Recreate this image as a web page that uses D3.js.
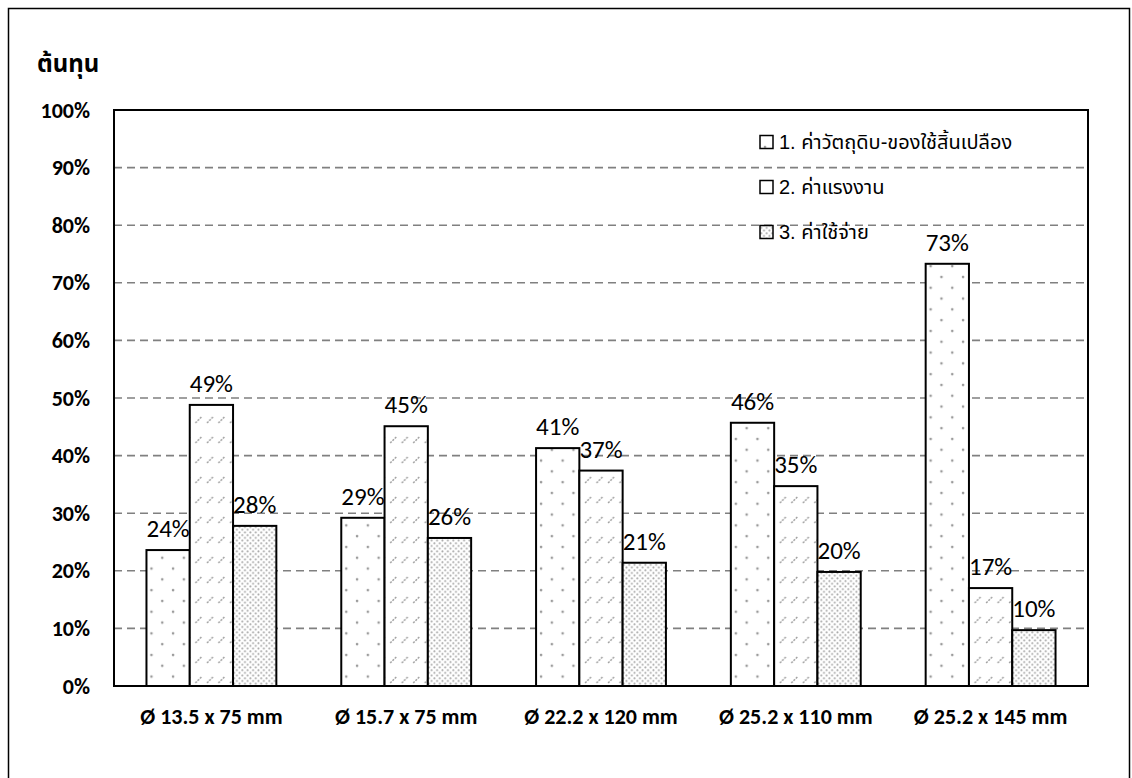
<!DOCTYPE html>
<html>
<head>
<meta charset="utf-8">
<script src="https://cdn.jsdelivr.net/npm/d3@7"></script>
<style>
  body { margin: 0; background: #fff; }
  svg { display: block; }
</style>
</head>
<body>
<script>
// chart data
var categories = ["Ø 13.5 x 75 mm", "Ø 15.7 x 75 mm", "Ø 22.2 x 120 mm", "Ø 25.2 x 110 mm", "Ø 25.2 x 145 mm"];
var seriesNames = ["1. ค่าวัตถุดิบ-ของใช้สิ้นเปลือง", "2. ค่าแรงงาน", "3. ค่าใช้จ่าย"];
var material = [23.6, 29.2, 41.3, 45.7, 73.3];
var labour = [48.8, 45.1, 37.4, 34.7, 17.0];
var overhead = [27.8, 25.7, 21.4, 19.8, 9.7];
var yTicks = [0, 10, 20, 30, 40, 50, 60, 70, 80, 90, 100];
var yTitle = "ต้นทุน";

var width = 1132, height = 778;
var margin = {left: 114, right: 44, top: 110, bottom: 92};
var plotW = width - margin.left - margin.right,
    plotH = height - margin.top - margin.bottom;

var series = [material, labour, overhead];
var patternIds = ["pDots", "pDash", "pFine"];

var svg = d3.select("body").append("svg").attr("width", width).attr("height", height);
var defs = svg.append("defs");

// sparse dots
var p1 = defs.append("pattern").attr("id", "pDots").attr("patternUnits", "userSpaceOnUse")
    .attr("width", 21.6).attr("height", 21.6);
p1.append("rect").attr("width", 21.6).attr("height", 21.6).attr("fill", "#fff");
p1.append("circle").attr("cx", 5).attr("cy", 5).attr("r", 1.3).attr("fill", "#9a9a9a");
p1.append("circle").attr("cx", 15.8).attr("cy", 15.8).attr("r", 1.3).attr("fill", "#9a9a9a");

// dashed upward diagonal
var p2 = defs.append("pattern").attr("id", "pDash").attr("patternUnits", "userSpaceOnUse")
    .attr("width", 11.5).attr("height", 20);
p2.append("rect").attr("width", 11.5).attr("height", 20).attr("fill", "#fff");
p2.append("line").attr("x1", 3).attr("y1", 13).attr("x2", 9).attr("y2", 7)
    .attr("stroke", "#a0a0a0").attr("stroke-width", 1.5).attr("stroke-dasharray", "2,1.2");

// dense dots
var p3 = defs.append("pattern").attr("id", "pFine").attr("patternUnits", "userSpaceOnUse")
    .attr("width", 5.4).attr("height", 5.4);
p3.append("rect").attr("width", 5.4).attr("height", 5.4).attr("fill", "#fff");
p3.append("circle").attr("cx", 1.3).attr("cy", 1.3).attr("r", 1).attr("fill", "#a8a8a8");
p3.append("circle").attr("cx", 4.0).attr("cy", 4.0).attr("r", 1).attr("fill", "#a8a8a8");

// outer frame
svg.append("rect").attr("x", 8.5).attr("y", 8.5).attr("width", 1121).attr("height", 800)
    .attr("fill", "none").attr("stroke", "#000").attr("stroke-width", 1.5);

var x0 = d3.scaleBand().domain(categories).range([0, plotW]).paddingInner(1 / 3).paddingOuter(1 / 6);
var x1 = d3.scaleBand().domain(d3.range(series.length)).range([0, x0.bandwidth()]);
var y = d3.scaleLinear().domain([0, 100]).range([plotH, 0]);

var g = svg.append("g").attr("transform", "translate(" + margin.left + "," + margin.top + ")");

// gridlines
g.append("g").selectAll("line").data(yTicks.filter(function (d) { return d > 0 && d < 100; }))
  .join("line")
    .attr("x1", 0).attr("x2", plotW)
    .attr("y1", function (d) { return y(d); }).attr("y2", function (d) { return y(d); })
    .attr("stroke", "#808080").attr("stroke-width", 1.6).attr("stroke-dasharray", "8,5");

// y axis labels
var yAxis = d3.axisLeft(y).tickValues(yTicks).tickSize(0).tickPadding(24)
    .tickFormat(function (d) { return d + "%"; });
var ya = g.append("g").call(yAxis);
ya.select(".domain").remove();
ya.selectAll("text").attr("font-family", "Carlito, Lato, sans-serif").attr("font-weight", "bold")
    .attr("font-size", 22).attr("fill", "#000");

// x axis labels
var xAxis = d3.axisBottom(x0).tickSize(0).tickPadding(22);
var xa = g.append("g").attr("transform", "translate(0," + plotH + ")").call(xAxis);
xa.select(".domain").remove();
xa.selectAll("text").attr("font-family", "Carlito, Lato, sans-serif").attr("font-weight", "bold")
    .attr("font-size", 22).attr("fill", "#000");

// bars
var groups = g.append("g").selectAll("g").data(categories).join("g")
    .attr("transform", function (d) { return "translate(" + x0(d) + ",0)"; });

groups.selectAll("rect").data(function (d, i) { return series.map(function (s, k) { return {k: k, v: s[i]}; }); })
  .join("rect")
    .attr("x", function (d) { return x1(d.k); })
    .attr("y", function (d) { return y(d.v); })
    .attr("width", x1.bandwidth())
    .attr("height", function (d) { return plotH - y(d.v); })
    .attr("fill", function (d) { return "url(#" + patternIds[d.k] + ")"; })
    .attr("stroke", "#000").attr("stroke-width", 2);

groups.selectAll("text").data(function (d, i) { return series.map(function (s, k) { return {k: k, v: s[i]}; }); })
  .join("text")
    .attr("x", function (d) { return x1(d.k) + x1.bandwidth() / 2; })
    .attr("y", function (d) { return y(d.v) - 13; })
    .attr("text-anchor", "middle")
    .attr("font-family", "Carlito, Lato, sans-serif").attr("font-size", 25)
    .text(function (d) { return Math.round(d.v) + "%"; });

// plot border
g.append("rect").attr("width", plotW).attr("height", plotH)
    .attr("fill", "none").attr("stroke", "#000").attr("stroke-width", 2);

// y title
svg.append("text").attr("x", 37).attr("y", 72)
    .attr("font-family", "Tahoma, 'Noto Sans Thai', 'Noto Sans', sans-serif").attr("font-weight", "bold")
    .attr("font-size", 24).text(yTitle);

// legend
var legend = svg.append("g").attr("transform", "translate(760,142)");
var items = legend.selectAll("g").data(seriesNames).join("g")
    .attr("transform", function (d, i) { return "translate(0," + (i * 45) + ")"; });
items.append("rect").attr("x", 0).attr("y", -6.5).attr("width", 13).attr("height", 13)
    .attr("fill", function (d, i) { return "url(#" + patternIds[i] + ")"; })
    .attr("stroke", "#000").attr("stroke-width", 1.5);
items.append("text").attr("x", 19).attr("y", 7)
    .attr("font-family", "'Liberation Sans', Arial, 'Noto Sans Thai', sans-serif").attr("font-size", 20)
    .text(function (d) { return d; });
</script>
</body>
</html>
